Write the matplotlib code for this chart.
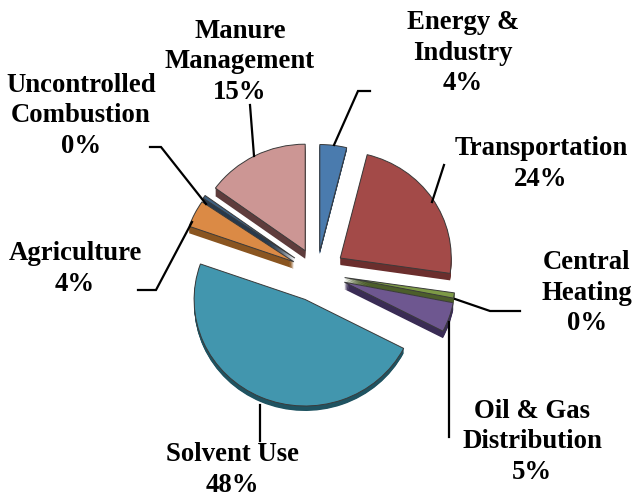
import matplotlib
matplotlib.use("Agg")
import matplotlib.pyplot as plt
from matplotlib.transforms import Affine2D

plt.rcParams['font.family'] = ['Liberation Serif', 'DejaVu Serif']

categories = ["Energy &\nIndustry", "Transportation", "Central\nHeating", "Oil & Gas\nDistribution",
              "Solvent Use", "Agriculture", "Uncontrolled\nCombustion", "Manure\nManagement"]
shown_pct = [4, 24, 0, 5, 48, 4, 0, 15]
values = [3.9, 23.4, 0.8, 4.5, 47.8, 4.1, 0.5, 15.0]
colors = ["#4A7BAE", "#A34A48", "#7D9A46", "#6E5790", "#4296AE", "#DB8A45", "#3F6080", "#CC9694"]
side_colors = ["#2A4A6E", "#6B2E2D", "#4C5E2A", "#3A2C55", "#1F5361", "#8A5520", "#26394D", "#5E3C3C"]

W, H = 634, 498
fig = plt.figure(figsize=(W/100, H/100), dpi=100)
ax = fig.add_axes([0, 0, 1, 1])

R, SQ = 111, 0.96
CX, CY = 317, 273
explode_px = [23, 28, 28, 29, 30, 26, 27, 26]
depth_px = [3, 7, 5, 7, 5, 7, 5, 8]
explode = [e / R for e in explode_px]
LAYERS = 8

for k in range(LAYERS, -1, -1):
    top = k == 0
    wedges, _ = ax.pie(values, startangle=90, counterclock=False, explode=explode, radius=1,
                       colors=colors if top else side_colors,
                       wedgeprops=dict(edgecolor="#3a3a3a" if top else "none",
                                       linewidth=0.7 if top else 0))
    if not top:
        for w, d in zip(wedges, depth_px):
            cx, cy = w.center
            w.set_center((cx, cy - d * k / LAYERS / (R * SQ)))

ax.set_aspect("auto")
ax.set_xlim(-CX / R, (W - CX) / R)
ax.set_ylim(-(H - CY) / (R * SQ), CY / (R * SQ))
ax.axis("off")

px = Affine2D().scale(1 / W, -1 / H).translate(0, 1) + fig.transFigure

leaders = [
    [(370, 91), (358, 91), (334, 145)],
    [(444, 165), (432, 202)],
    [(455, 299), (490, 311), (520, 311)],
    [(449, 322), (449, 437)],
    [(260, 405), (260, 441)],
    [(192, 222), (156, 290), (138, 290)],
    [(206, 204), (161, 147), (150, 147)],
    [(254, 156), (250, 105)],
]
for pts in leaders:
    ax.plot([p[0] for p in pts], [p[1] for p in pts], color="black", lw=1.6,
            transform=px, solid_joinstyle="miter", zorder=1.5, clip_on=False)

label_pos = [(463, 53), (541, 164), (587, 293), (532, 442), (232, 470), (75, 269), (81, 116), (240, 62)]
for name, pct, (x, y) in zip(categories, shown_pct, label_pos):
    ax.text(x, y, f"{name}\n{pct}%", transform=px, ha="center", va="center", fontsize=19.3,
            fontweight="bold", linespacing=1.27, color="black", zorder=5)

fig.savefig("out.png", dpi=100)
